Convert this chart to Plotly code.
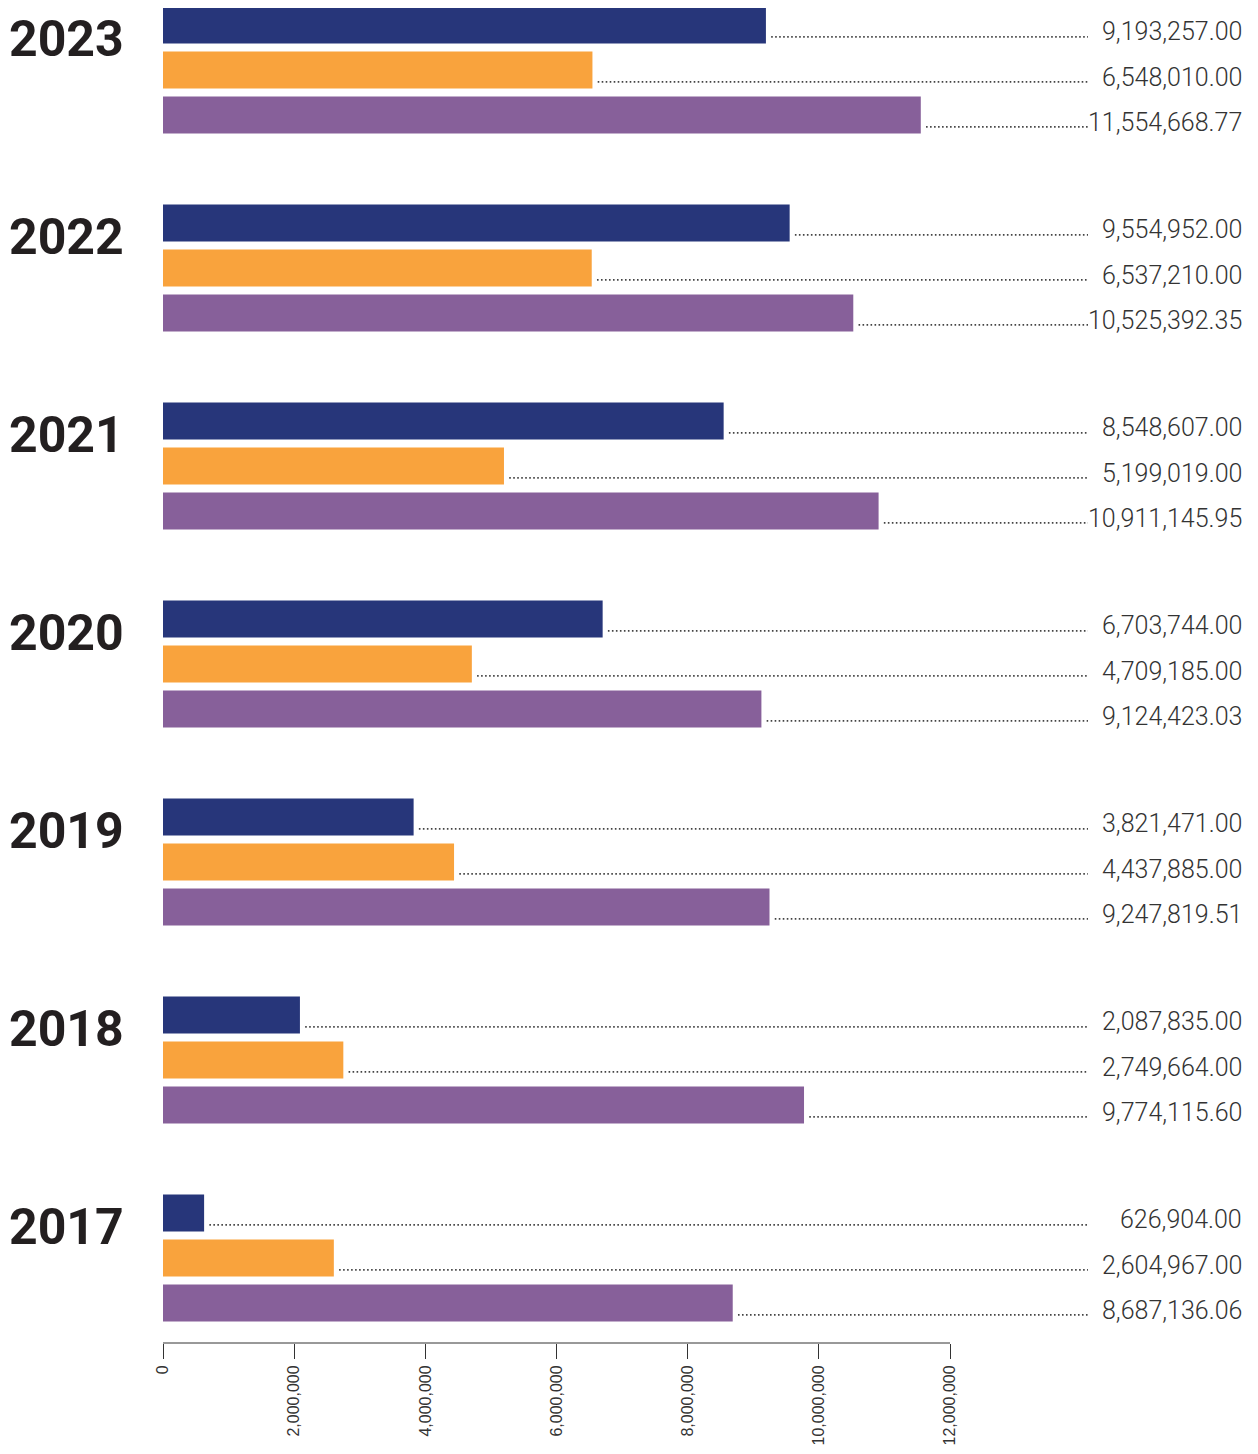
import plotly.graph_objects as go

years = ["2023", "2022", "2021", "2020", "2019", "2018", "2017"]
series_a = [9193257.00, 9554952.00, 8548607.00, 6703744.00, 3821471.00, 2087835.00, 626904.00]
series_b = [6548010.00, 6537210.00, 5199019.00, 4709185.00, 4437885.00, 2749664.00, 2604967.00]
series_c = [11554668.77, 10525392.35, 10911145.95, 9124423.03, 9247819.51, 9774115.60, 8687136.06]
tick_vals = [0, 2000000, 4000000, 6000000, 8000000, 10000000, 12000000]
tick_text = ["0", "2,000,000", "4,000,000", "6,000,000", "8,000,000", "10,000,000", "12,000,000"]

colors = ["#27367a", "#f9a33d", "#87609a"]
series = [series_a, series_b, series_c]

BARGAP = 0.318
SLOT = (1 - BARGAP) / 3
X_MAX = 12000000 * (1244 - 163) / 787.0
LEADER_END = 12000000 * (1088 - 163) / 787.0
LEADER_PAD = 80000
LEADER_DY = 0.06

fig = go.Figure()
for vals, col in zip(series, colors):
    fig.add_trace(go.Bar(y=years, x=vals, orientation="h", marker=dict(color=col, line=dict(width=0)),
                         hoverinfo="x+y"))

shapes = []
annotations = []
for k, yr in enumerate(years):
    annotations.append(dict(x=0, xref="paper", y=k, yref="y", text="<b>%s</b>" % yr, showarrow=False,
                            xanchor="right", yanchor="middle", xshift=-37, yshift=31,
                            font=dict(family="Roboto", size=50, color="#231f20")))
    for j, vals in enumerate(series):
        v = vals[k]
        yc = k + (j - 1) * SLOT
        shapes.append(dict(type="line", xref="x", yref="y", x0=v + LEADER_PAD, x1=LEADER_END,
                           y0=yc + LEADER_DY, y1=yc + LEADER_DY,
                           line=dict(color="#444444", width=1.6, dash="1.6px,2.4px")))
        annotations.append(dict(x=1, xref="paper", y=yc, yref="y", text="{:,.2f}".format(v), showarrow=False,
                                xanchor="right", yanchor="middle", yshift=-7,
                                font=dict(family="Roboto", size=25, color="#333333", weight=300)))

shapes.append(dict(type="line", xref="x", yref="paper", x0=0, x1=12000000, y0=0, y1=0,
                   line=dict(color="#333333", width=1)))

fig.update_layout(
    width=1250, height=1446,
    margin=dict(l=155, r=14, t=0, b=111),
    plot_bgcolor="white", paper_bgcolor="white",
    barmode="group", bargap=BARGAP, bargroupgap=8 / 45.0,
    showlegend=False,
    shapes=shapes, annotations=annotations,
    xaxis=dict(range=[0, X_MAX], tickvals=tick_vals, ticktext=tick_text, tickangle=-90,
               ticks="outside", ticklen=15, tickcolor="#333333", tickwidth=1,
               showgrid=False, zeroline=False, showline=False,
               tickfont=dict(family="Liberation Sans", size=16, color="#333333")),
    yaxis=dict(range=[(1335 - 62) / 198.0, -62 / 198.0], showticklabels=False, showgrid=False,
               zeroline=False, showline=False, ticks=""),
)

fig.write_html("out.html")
